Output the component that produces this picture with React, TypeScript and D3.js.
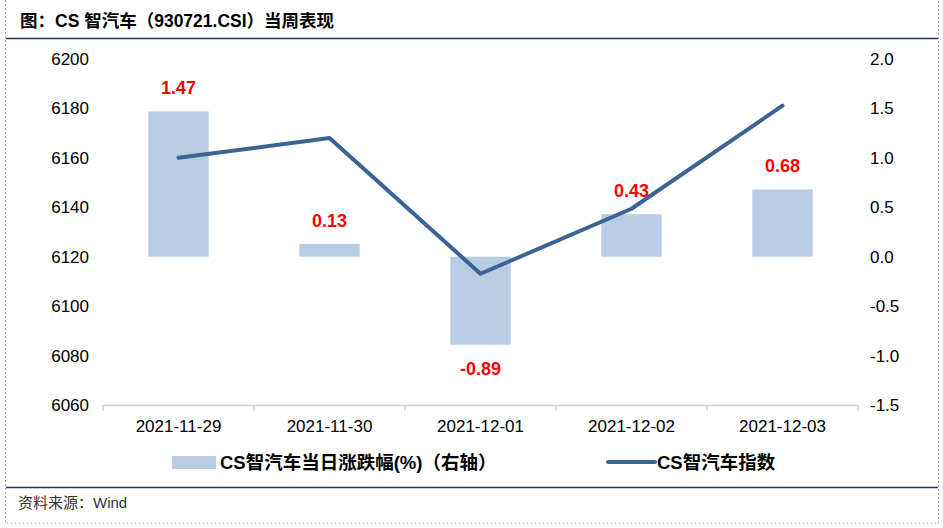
import React from "react";
import * as d3 from "d3";

const categories = ["2021-11-29", "2021-11-30", "2021-12-01", "2021-12-02", "2021-12-03"];
const pctChange = [1.47, 0.13, -0.89, 0.43, 0.68];
const indexValues = [6160, 6168, 6113.1, 6139.4, 6181.1];
const leftTicks = [6060, 6080, 6100, 6120, 6140, 6160, 6180, 6200];
const rightTicks = [-1.5, -1.0, -0.5, 0.0, 0.5, 1.0, 1.5, 2.0];

const W = 943;
const H = 528;
const FONT = "'Liberation Sans', Arial, 'Noto Sans CJK SC', sans-serif";
const CJK = "'Liberation Sans', Arial, 'Noto Sans CJK SC', sans-serif";

export default function App() {
  const top = 59;
  const bottom = 405;
  const left = 103;
  const right = 858;

  const x = d3.scaleBand<string>().domain(categories).range([left, right]).paddingInner(0).paddingOuter(0);
  const yL = d3.scaleLinear().domain([6060, 6200]).range([bottom, top]);
  const yR = d3.scaleLinear().domain([-1.5, 2.0]).range([bottom, top]);
  const barW = x.bandwidth() * 0.4;

  const line = d3
    .line<number>()
    .x((_, i) => (x(categories[i]) as number) + x.bandwidth() / 2)
    .y((d) => yL(d));

  const boundaries = categories.map((c) => x(c) as number).concat([right]);

  return (
    <svg
      width={W}
      height={H}
      style={{ position: "absolute", left: 0, top: 0, display: "block", background: "#fff" }}
    >
      <rect x={5.5} y={-2} width={933} height={525} fill="none" stroke="#b0b0b0" strokeDasharray="2,2" strokeWidth={1} />

      <text x={20} y={27} fontFamily={CJK} fontSize={17.5} fontWeight="bold" fill="#000">
        图：CS 智汽车（930721.CSI）当周表现
      </text>
      <line x1={6} x2={938} y1={38.5} y2={38.5} stroke="#1F3864" strokeWidth={1.5} />

      {pctChange.map((v, i) => {
        const cx = (x(categories[i]) as number) + x.bandwidth() / 2;
        const y0 = yR(0);
        const y1 = yR(v);
        return (
          <g key={"b" + i}>
            <rect x={cx - barW / 2} y={Math.min(y0, y1)} width={barW} height={Math.abs(y1 - y0)} fill="#B8CCE4" />
            <text
              x={cx}
              y={v >= 0 ? y1 - 17 : y1 + 30}
              textAnchor="middle"
              fontFamily={FONT}
              fontSize={18}
              fontWeight="bold"
              fill="#FF0000"
            >
              {v.toFixed(2)}
            </text>
          </g>
        );
      })}

      <path d={line(indexValues) || ""} fill="none" stroke="#3A6494" strokeWidth={4} strokeLinecap="round" strokeLinejoin="round" />

      <line x1={left} x2={right} y1={bottom + 0.5} y2={bottom + 0.5} stroke="#d0d0d0" strokeWidth={1.5} />
      {boundaries.map((b, i) => (
        <line key={"t" + i} x1={b} x2={b} y1={bottom} y2={bottom + 6} stroke="#d0d0d0" strokeWidth={1.5} />
      ))}
      {categories.map((c) => (
        <text
          key={c}
          x={(x(c) as number) + x.bandwidth() / 2}
          y={432}
          textAnchor="middle"
          fontFamily={FONT}
          fontSize={17}
          fill="#000"
        >
          {c}
        </text>
      ))}

      {leftTicks.map((t) => (
        <text key={"l" + t} x={89} y={yL(t) + 6} textAnchor="end" fontFamily={FONT} fontSize={17} fill="#000">
          {t}
        </text>
      ))}

      {rightTicks.map((t) => (
        <text key={"r" + t} x={870} y={yR(t) + 6} textAnchor="start" fontFamily={FONT} fontSize={17} fill="#000">
          {t.toFixed(1)}
        </text>
      ))}

      <rect x={172} y={456} width={44} height={13} fill="#B8CCE4" />
      <text x={220} y={469} fontFamily={CJK} fontSize={18.5} fontWeight="bold" fill="#000">
        CS智汽车当日涨跌幅(%)（右轴）
      </text>
      <line x1={608} x2={655} y1={462} y2={462} stroke="#3A6494" strokeWidth={4} strokeLinecap="round" />
      <text x={657} y={469} fontFamily={CJK} fontSize={18.5} fontWeight="bold" fill="#000">
        CS智汽车指数
      </text>

      <line x1={6} x2={938} y1={487.5} y2={487.5} stroke="#1F3864" strokeWidth={1.5} />
      <text x={18} y={508} fontFamily={CJK} fontSize={15} fill="#333">
        资料来源：Wind
      </text>
    </svg>
  );
}
